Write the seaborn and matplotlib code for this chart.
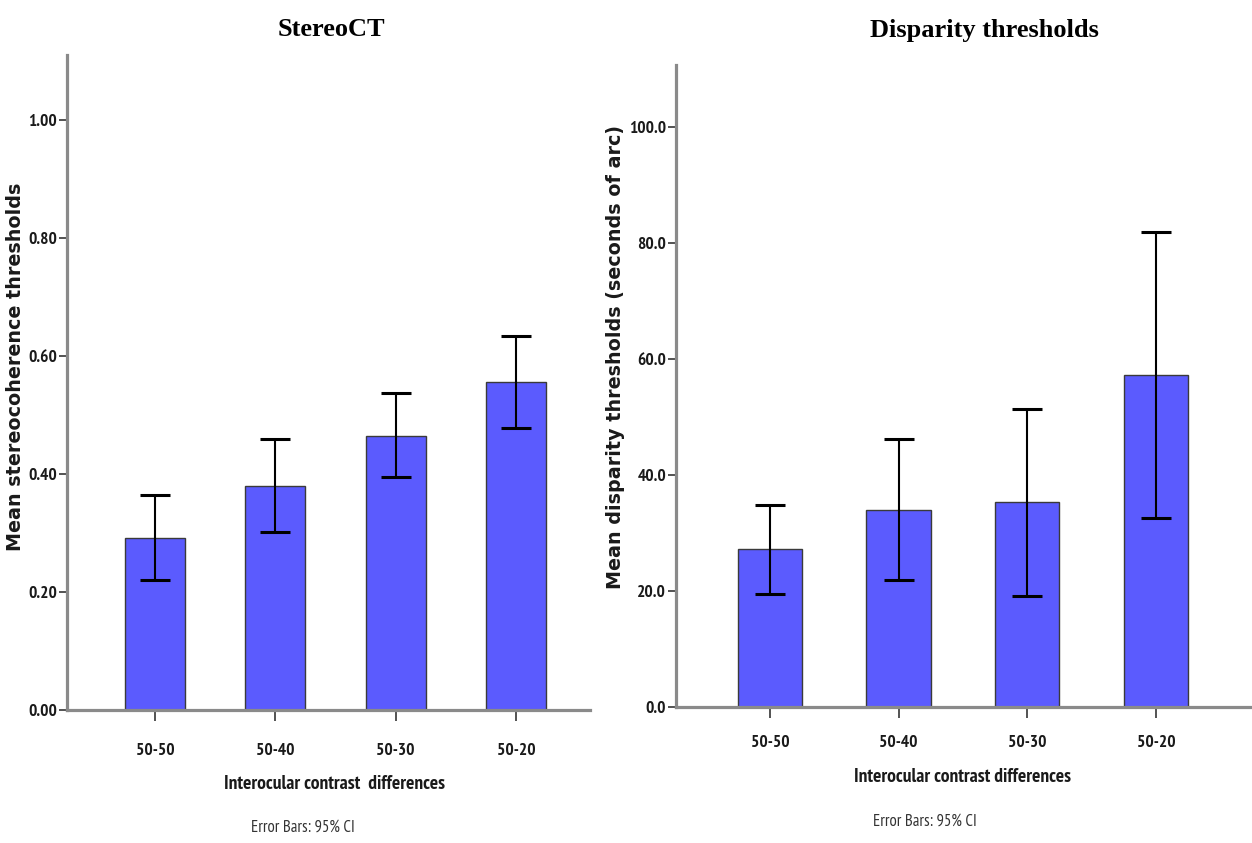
import matplotlib
matplotlib.use("Agg")
import matplotlib.pyplot as plt
import numpy as np
import pandas as pd
import seaborn as sns

# ---- data -------------------------------------------------------------
conditions = ["50-50", "50-40", "50-30", "50-20"]

stereo_mean = [0.292, 0.379, 0.464, 0.556]
stereo_ci_low = [0.220, 0.302, 0.395, 0.478]
stereo_ci_high = [0.364, 0.459, 0.537, 0.634]

disparity_mean = [27.2, 34.0, 35.3, 57.2]
disparity_ci_low = [19.5, 21.9, 19.1, 32.6]
disparity_ci_high = [34.8, 46.2, 51.4, 81.9]

stereo_ticks = [0.0, 0.2, 0.4, 0.6, 0.8, 1.0]
disparity_ticks = [0.0, 20.0, 40.0, 60.0, 80.0, 100.0]

# ---- style ------------------------------------------------------------
sns.set_style("ticks")
NARROW = ["PT Sans Narrow", "DejaVu Sans"]
SERIF = ["Liberation Serif", "DejaVu Serif"]
WIDE = ["DejaVu Sans"]
plt.rcParams["font.family"] = NARROW

BAR = "#5b5bfe"
EDGE = "#3a3a3a"
AXIS = "#8a8a8a"
TXT = "#1a1a1a"

W, H = 1252, 843
fig = plt.figure(figsize=(W / 100, H / 100), dpi=100)


def px_axes(x0, y_top, x1, y_bot):
    return fig.add_axes([x0 / W, 1 - y_bot / H, (x1 - x0) / W, (y_bot - y_top) / H])


def panel(ax, means, lo, hi, ticks, fmt, ylim, xlim, xpad):
    df = pd.DataFrame({"cond": conditions, "val": means})
    sns.barplot(data=df, x="cond", y="val", order=conditions, ax=ax,
                color=BAR, saturation=1, width=0.5,
                edgecolor=EDGE, linewidth=1.0, errorbar=None)
    m = np.asarray(means)
    yerr = np.vstack([m - np.asarray(lo), np.asarray(hi) - m])
    ax.errorbar(np.arange(len(conditions)), m, yerr=yerr, fmt="none",
                ecolor="black", elinewidth=1.5, capsize=11, capthick=2.2,
                zorder=5)
    ax.set_xlim(*xlim)
    ax.set_ylim(*ylim)
    ax.set_yticks(ticks)
    ax.set_yticklabels([fmt.format(t) for t in ticks])
    for side in ("top", "right"):
        ax.spines[side].set_visible(False)
    for side in ("left", "bottom"):
        ax.spines[side].set_color(AXIS)
        ax.spines[side].set_linewidth(2.3)
    ax.tick_params(axis="y", length=6, width=1.3, color="#444444",
                   labelsize=12.5, labelcolor=TXT, pad=1)
    ax.tick_params(axis="x", length=8, width=1.3, color="#444444",
                   labelsize=12.5, labelcolor=TXT, pad=xpad)
    for lab in ax.get_xticklabels() + ax.get_yticklabels():
        lab.set_fontfamily(NARROW)
        lab.set_fontweight("bold")
    ax.set_facecolor("white")


# ---- left panel: stereocoherence thresholds ---------------------------
ax1 = px_axes(67, 55, 590, 710)
panel(ax1, stereo_mean, stereo_ci_low, stereo_ci_high, stereo_ticks,
      "{:.2f}", (0, 1.11), (-0.731, 3.615), 16)
ax1.set_ylabel("Mean stereocoherence thresholds", fontsize=13.8,
               fontweight="bold", family=WIDE, color=TXT)
ax1.yaxis.set_label_coords(-0.080, 0.524)
ax1.set_xlabel("Interocular contrast  differences", fontsize=14,
               fontweight="bold", family=NARROW, color=TXT)
ax1.xaxis.set_label_coords(0.512, -0.099)

# ---- right panel: disparity thresholds ---------------------------------
ax2 = px_axes(676, 65, 1252, 707)
panel(ax2, disparity_mean, disparity_ci_low, disparity_ci_high, disparity_ticks,
      "{:.1f}", (0, 110.7), (-0.730, 3.746), 12)
ax2.set_ylabel("Mean disparity thresholds (seconds of arc)", fontsize=13.8,
               fontweight="bold", family=WIDE, color=TXT)
ax2.yaxis.set_label_coords(-0.0885, 0.545)
ax2.set_xlabel("Interocular contrast differences", fontsize=14,
               fontweight="bold", family=NARROW, color=TXT)
ax2.xaxis.set_label_coords(0.497, -0.095)

# ---- titles and footnotes ------------------------------------------------
fig.text(331 / W, 1 - 30 / H, "StereoCT", ha="center", va="center",
         fontsize=19, fontweight="bold", family=SERIF, color="black")
fig.text(984 / W, 1 - 31 / H, "Disparity thresholds", ha="center", va="center",
         fontsize=19, fontweight="bold", family=SERIF, color="black")
fig.text(303 / W, 1 - 828 / H, "Error Bars: 95% CI", ha="center", va="center",
         fontsize=12, family=NARROW, color="#333333")
fig.text(925 / W, 1 - 822 / H, "Error Bars: 95% CI", ha="center", va="center",
         fontsize=12, family=NARROW, color="#333333")

fig.savefig("out.png", dpi=100, facecolor="white")
